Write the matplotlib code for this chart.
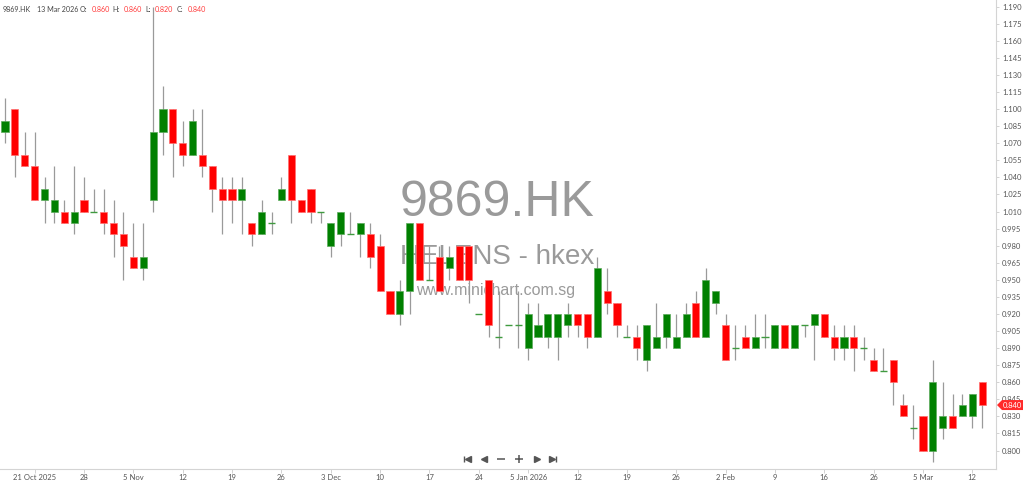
import numpy as np
import pandas as pd
import matplotlib
matplotlib.use("Agg")
import matplotlib.pyplot as plt
from matplotlib.lines import Line2D
from matplotlib.patches import Polygon
from matplotlib.transforms import blended_transform_factory

# daily OHLC for 9869.HK
opens = [1.08, 1.10, 1.06, 1.05, 1.02, 1.01, 1.01, 1.00, 1.02, 1.01,
         1.01, 1.00, 0.99, 0.97, 0.96, 1.02, 1.08, 1.10, 1.07, 1.06,
         1.06, 1.05, 1.03, 1.03, 1.02, 1.00, 0.99, 1.00, 1.02, 1.06,
         1.02, 1.03, 1.01, 0.98, 0.99, 0.99, 0.99, 0.99, 0.98, 0.94,
         0.92, 0.94, 1.00, 0.95, 0.97, 0.96, 0.98, 0.98, 0.92, 0.95,
         0.90, 0.91, 0.91, 0.89, 0.90, 0.90, 0.90, 0.91, 0.92, 0.92,
         0.90, 0.94, 0.93, 0.90, 0.90, 0.88, 0.89, 0.90, 0.89, 0.90,
         0.93, 0.90, 0.93, 0.91, 0.89, 0.90, 0.89, 0.90, 0.89, 0.91,
         0.89, 0.91, 0.91, 0.92, 0.90, 0.89, 0.90, 0.89, 0.88, 0.87,
         0.88, 0.84, 0.82, 0.83, 0.80, 0.82, 0.83, 0.83, 0.83, 0.86]
highs = [1.11, 1.10, 1.08, 1.08, 1.04, 1.05, 1.02, 1.05, 1.04, 1.03,
         1.03, 1.02, 1.01, 1.00, 1.00, 1.19, 1.12, 1.10, 1.09, 1.10,
         1.10, 1.05, 1.04, 1.04, 1.04, 1.00, 1.02, 1.01, 1.04, 1.06,
         1.02, 1.03, 1.01, 1.00, 1.01, 1.01, 1.00, 1.00, 0.99, 0.94,
         0.95, 1.00, 1.00, 0.98, 0.98, 0.98, 0.98, 0.98, 0.92, 0.95,
         0.94, 0.91, 0.94, 0.93, 0.93, 0.92, 0.92, 0.93, 0.92, 0.92,
         0.97, 0.96, 0.93, 0.91, 0.91, 0.91, 0.93, 0.92, 0.92, 0.93,
         0.94, 0.96, 0.94, 0.92, 0.91, 0.91, 0.92, 0.92, 0.91, 0.91,
         0.91, 0.91, 0.92, 0.92, 0.91, 0.91, 0.91, 0.90, 0.89, 0.89,
         0.88, 0.85, 0.84, 0.83, 0.88, 0.86, 0.85, 0.85, 0.85, 0.86]
lows = [1.07, 1.04, 1.05, 1.02, 1.00, 1.00, 1.00, 0.99, 1.01, 1.01,
        0.99, 0.97, 0.95, 0.96, 0.95, 1.01, 1.06, 1.04, 1.05, 1.06,
        1.04, 1.01, 0.99, 1.00, 0.99, 0.98, 0.99, 0.99, 1.02, 1.00,
        1.01, 1.00, 1.00, 0.97, 0.98, 0.99, 0.97, 0.96, 0.94, 0.92,
        0.91, 0.92, 0.95, 0.95, 0.94, 0.95, 0.95, 0.93, 0.92, 0.90,
        0.89, 0.91, 0.89, 0.88, 0.90, 0.89, 0.88, 0.90, 0.90, 0.89,
        0.90, 0.92, 0.90, 0.90, 0.88, 0.87, 0.89, 0.89, 0.89, 0.90,
        0.90, 0.90, 0.92, 0.88, 0.88, 0.89, 0.89, 0.89, 0.89, 0.89,
        0.89, 0.90, 0.88, 0.90, 0.88, 0.88, 0.87, 0.88, 0.87, 0.87,
        0.84, 0.83, 0.81, 0.80, 0.79, 0.81, 0.82, 0.83, 0.82, 0.82]
closes = [1.09, 1.06, 1.05, 1.02, 1.03, 1.02, 1.00, 1.01, 1.01, 1.01,
          1.00, 0.99, 0.98, 0.96, 0.97, 1.08, 1.10, 1.07, 1.06, 1.09,
          1.05, 1.03, 1.02, 1.02, 1.03, 0.99, 1.01, 1.00, 1.03, 1.02,
          1.01, 1.01, 1.01, 1.00, 1.01, 0.99, 1.00, 0.97, 0.94, 0.92,
          0.94, 1.00, 0.95, 0.95, 0.94, 0.97, 0.95, 0.95, 0.92, 0.91,
          0.90, 0.91, 0.91, 0.92, 0.91, 0.92, 0.92, 0.92, 0.91, 0.90,
          0.96, 0.93, 0.91, 0.90, 0.89, 0.91, 0.90, 0.92, 0.90, 0.92,
          0.90, 0.95, 0.94, 0.88, 0.89, 0.89, 0.90, 0.90, 0.91, 0.89,
          0.91, 0.91, 0.92, 0.90, 0.89, 0.90, 0.89, 0.89, 0.87, 0.87,
          0.86, 0.83, 0.82, 0.80, 0.86, 0.83, 0.82, 0.84, 0.85, 0.84]

# HKEX trading days shown
hk_holidays = pd.to_datetime(["2025-10-29", "2025-12-25", "2025-12-26", "2026-01-01",
                              "2026-02-17", "2026-02-18", "2026-02-19"])
dates = pd.bdate_range("2025-10-16", "2026-03-13")
dates = dates[~dates.isin(hk_holidays)]

yticks = np.round(np.arange(0.800, 1.1901, 0.015), 3)

o = np.array(opens); h = np.array(highs); l = np.array(lows); c = np.array(closes)
x = np.arange(len(dates))
up = c >= o

FONT = "Lato"
W, H = 1024, 484
fig = plt.figure(figsize=(W / 100, H / 100), dpi=100)
fig.patch.set_facecolor("white")

def fx(px):
    return px / W

def fy(py):
    return 1 - py / H

ax = fig.add_axes([0, fy(469), fx(996), 469 / H])
ax.set_facecolor("white")

# watermark behind the candles
wm = dict(transform=fig.transFigure, ha="center", va="center", color="#9a9a9a",
          family="Liberation Sans", zorder=0.5)
ax.text(fx(497), fy(203), "9869.HK", fontsize=36, **wm)
ax.text(fx(497), fy(257), "HELENS - hkex", fontsize=20, **wm)
ax.text(fx(496), fy(290), "www.minichart.com.sg", fontsize=11.5, **wm)

# candles
ax.vlines(x, l, h, color="#9a9a9a", lw=0.9, zorder=2)
body = np.abs(c - o)
solid = body > 1e-9
cols = np.where(up, "#008000", "#ff0000")
edges = np.where(up, "#5cab5c", "#ff7070")
ax.bar(x[solid], body[solid], bottom=np.minimum(o, c)[solid], width=0.72,
       color=cols[solid], edgecolor=edges[solid], linewidth=0.5, zorder=3)
ax.hlines(c[~solid], x[~solid] - 0.36, x[~solid] + 0.36, color="#3f9a3f", lw=1.0, zorder=3)

ax.set_xlim(-0.51, 100.4)
ax.set_ylim(0.7838, 1.1959)

# axes styling
for s in ["left", "top"]:
    ax.spines[s].set_visible(False)
for s in ["right", "bottom"]:
    ax.spines[s].set_color("#d4d4d4")
    ax.spines[s].set_linewidth(0.8)

ax.yaxis.tick_right()
ax.set_yticks(yticks)
ax.set_yticklabels([f"{v:.3f}" for v in yticks], family=FONT)
ax.tick_params(axis="y", length=2, width=0.5, color="#c0c0c0", pad=2.5,
               labelsize=5.5, labelcolor="#555555")

tick_idx = list(range(3, len(dates), 5))
labels = []
prev = None
for i in tick_idx:
    d = dates[i]
    if prev is None or d.year != prev.year:
        labels.append(f"{d.day} {d:%b %Y}")
    elif d.month != prev.month:
        labels.append(f"{d.day} {d:%b}")
    else:
        labels.append(f"{d.day}")
    prev = d
ax.set_xticks(tick_idx)
ax.set_xticklabels([])
ax.tick_params(axis="x", length=3, width=0.5, color="#c0c0c0")
# date labels on a common baseline
xtr = blended_transform_factory(ax.transData, fig.transFigure)
for i, lab in zip(tick_idx, labels):
    ax.text(i, fy(480), lab, transform=xtr, ha="center", va="baseline",
            fontsize=5.5, color="#555555", family=FONT, clip_on=False)

# header line
hdr = dict(fontsize=5.1, va="center", ha="left", family=FONT)
last = dates[-1]
fig.text(fx(3), fy(10), "9869.HK", color="#444444", **hdr)
fig.text(fx(37), fy(10), f"{last.day} {last:%b %Y}", color="#444444", **hdr)
for px_lab, px_val, lab, val in [(80, 92, "O:", o[-1]), (112, 124, "H:", h[-1]),
                                  (145, 155, "L:", l[-1]), (177, 188, "C:", c[-1])]:
    fig.text(fx(px_lab), fy(10), lab, color="#444444", **hdr)
    fig.text(fx(px_val), fy(10), f"{val:.3f}", color="#ff3b3b", **hdr)

# last price tag on the axis
ly = ax.transData.transform((0, c[-1]))[1]
ty = H - ly
tag = Polygon([(fx(997), fy(ty)), (fx(1002), fy(ty - 5)), (fx(1023), fy(ty - 5)),
               (fx(1023), fy(ty + 5)), (fx(1002), fy(ty + 5))],
              closed=True, transform=fig.transFigure, facecolor="#ff2a2a",
              edgecolor="none", zorder=5)
fig.add_artist(tag)
fig.text(fx(1012.5), fy(ty), f"{c[-1]:.3f}", color="white", fontsize=5.5,
         ha="center", va="center", family=FONT, zorder=6)

# navigation buttons
nav = "#555555"
def mark(px, m, ms, mew=1.0):
    fig.add_artist(Line2D([fx(px)], [fy(459)], marker=m, markersize=ms, color=nav,
                          markeredgewidth=mew, linestyle="none",
                          transform=fig.transFigure))
mark(463.5, "|", 5, 1.0)
mark(467.5, "<", 4)
mark(484, "<", 4)
mark(501, "_", 6, 1.1)
mark(519, "+", 6, 1.1)
mark(537, ">", 4)
mark(551.5, ">", 4)
mark(555.5, "|", 5, 1.0)

fig.savefig("out.png", dpi=100, facecolor="white")
